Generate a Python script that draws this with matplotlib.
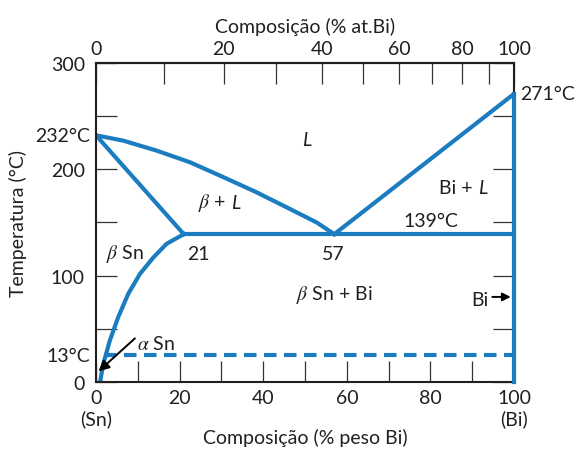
import numpy as np
import matplotlib.pyplot as plt
from matplotlib.ticker import FixedLocator

plt.rcParams['font.family'] = ['Lato', 'DejaVu Sans']
plt.rcParams['mathtext.fontset'] = 'stix'
plt.rcParams['lines.solid_joinstyle'] = 'round'

azul = '#1b7dc0'
cor_txt = '#231f20'

# liquidus (lado Sn), solidus, solvus e demais linhas
liq_x = [0, 6.5, 14.5, 22.5, 30.5, 38.4, 46.4, 52.8, 57]
liq_T = [232, 227, 217.6, 206.6, 192.6, 178.4, 162.7, 150, 139]
liqBi_x = [57, 100]
liqBi_T = [139, 271]
sol_x = [0, 21]
sol_T = [232, 139]
solv_x = [21, 16.9, 13.7, 10.5, 7.7, 5.3, 3.3, 1.75, 1.1, 1.0]
solv_T = [139, 130, 117, 101.6, 82.8, 60.9, 38.9, 17, 2.8, 0]
eut_x = [21, 100]
eut_T = [139, 139]
bi_x = [100, 100]
bi_T = [0, 271]
alfa_x = [2, 100]
alfa_T = [25, 25]   # linha tracejada (13°C)

yt = [0, 100, 200, 300]
xt = [0, 20, 40, 60, 80, 100]
xt_lab = ['0\n(Sn)', '20', '40', '60', '80', '100\n(Bi)']
at_t = [0, 20, 40, 60, 80, 100]

M_Bi, M_Sn = 209.0, 118.71

def at2wt(a):
    a = np.asarray(a, dtype=float)
    return a * M_Bi / (a * M_Bi + (100 - a) * M_Sn) * 100

def wt2at(w):
    w = np.asarray(w, dtype=float)
    return (w / M_Bi) / (w / M_Bi + (100 - w) / M_Sn) * 100

fig = plt.figure(figsize=(5.84, 4.52), dpi=100)
ax = fig.add_axes([0.1644, 0.1527, 0.7158, 0.7057])
ax.set_xlim(0, 100)
ax.set_ylim(0, 300)

lw = 3
ax.plot(liq_x, liq_T, color=azul, lw=lw)
ax.plot(liqBi_x, liqBi_T, color=azul, lw=lw)
ax.plot(sol_x, sol_T, color=azul, lw=lw)
ax.plot(solv_x, solv_T, color=azul, lw=lw)
ax.plot(eut_x, eut_T, color=azul, lw=lw)
ax.plot(bi_x, bi_T, color=azul, lw=lw, clip_on=False, zorder=5)
ax.plot(alfa_x, alfa_T, color=azul, lw=lw, dashes=(3, 1.8))

for s in ax.spines.values():
    s.set_linewidth(1.5)
    s.set_color(cor_txt)

fs = 14

ax.set_yticks(yt)
ax.set_yticklabels([str(v) for v in yt])
ax.yaxis.set_minor_locator(FixedLocator([50, 150, 250]))
ax.set_xticks(xt)
ax.set_xticklabels(xt_lab)
ax.xaxis.set_minor_locator(FixedLocator([10, 30, 50, 70, 90]))
ax.tick_params(which='both', direction='in', length=15, width=0.9,
               color='#333333', right=True, labelsize=fs,
               labelcolor=cor_txt, pad=5)
ax.tick_params(axis='y', pad=8)

top = ax.secondary_xaxis('top', functions=(wt2at, at2wt))
top.set_xticks(at_t)
top.xaxis.set_minor_locator(FixedLocator([10, 30, 50, 70, 90]))
top.tick_params(which='both', direction='in', length=15, width=0.9,
                color='#333333', labelsize=fs, labelcolor=cor_txt, pad=4)
top.spines['top'].set_linewidth(1.5)
top.set_xlabel('Composição (% at.Bi)', fontsize=fs, color=cor_txt, labelpad=6)

ax.set_xlabel('Composição (% peso Bi)', fontsize=fs, color=cor_txt, labelpad=1)
ax.set_ylabel('Temperatura (°C)', fontsize=fs, color=cor_txt)
ax.yaxis.set_label_coords(-0.165, 0.5)

ax.text(-1.5, 232, '232°C', ha='right', va='center', fontsize=fs, color=cor_txt)
ax.text(-1.5, 25, '13°C', ha='right', va='center', fontsize=fs, color=cor_txt)
ax.text(101.5, 271, '271°C', ha='left', va='center', fontsize=fs, color=cor_txt)

ax.text(50.5, 228, 'L', ha='center', va='center', fontsize=fs, color=cor_txt,
        style='italic')
ax.text(31, 169, r'$\beta$ +', ha='right', va='center', fontsize=fs, color=cor_txt)
ax.text(32.4, 169, 'L', ha='left', va='center', fontsize=fs, color=cor_txt,
        style='italic')
ax.text(90, 183, 'Bi +', ha='right', va='center', fontsize=fs, color=cor_txt)
ax.text(91.4, 183, 'L', ha='left', va='center', fontsize=fs, color=cor_txt,
        style='italic')
ax.text(80, 152, '139°C', ha='center', va='center', fontsize=fs, color=cor_txt)
ax.text(24.5, 121, '21', ha='center', va='center', fontsize=fs, color=cor_txt)
ax.text(56.8, 121, '57', ha='center', va='center', fontsize=fs, color=cor_txt)
ax.text(7, 121, r'$\beta$ Sn', ha='center', va='center', fontsize=fs, color=cor_txt)
ax.text(57, 83, r'$\beta$ Sn + Bi', ha='center', va='center', fontsize=fs, color=cor_txt)
ax.text(9.7, 37, r'$\alpha$ Sn', ha='left', va='center', fontsize=fs, color=cor_txt)
ax.text(94, 78, 'Bi', ha='right', va='center', fontsize=fs, color=cor_txt)

ax.annotate('', xy=(0.6, 10), xytext=(9.3, 41),
            arrowprops=dict(arrowstyle='-|>', color='black', lw=1.4,
                            mutation_scale=16, shrinkA=0, shrinkB=0))
ax.annotate('', xy=(99.2, 80), xytext=(94.8, 80),
            arrowprops=dict(arrowstyle='-|>', color='black', lw=1.4,
                            mutation_scale=12, shrinkA=0, shrinkB=0))

fig.savefig('out.png', dpi=100)
